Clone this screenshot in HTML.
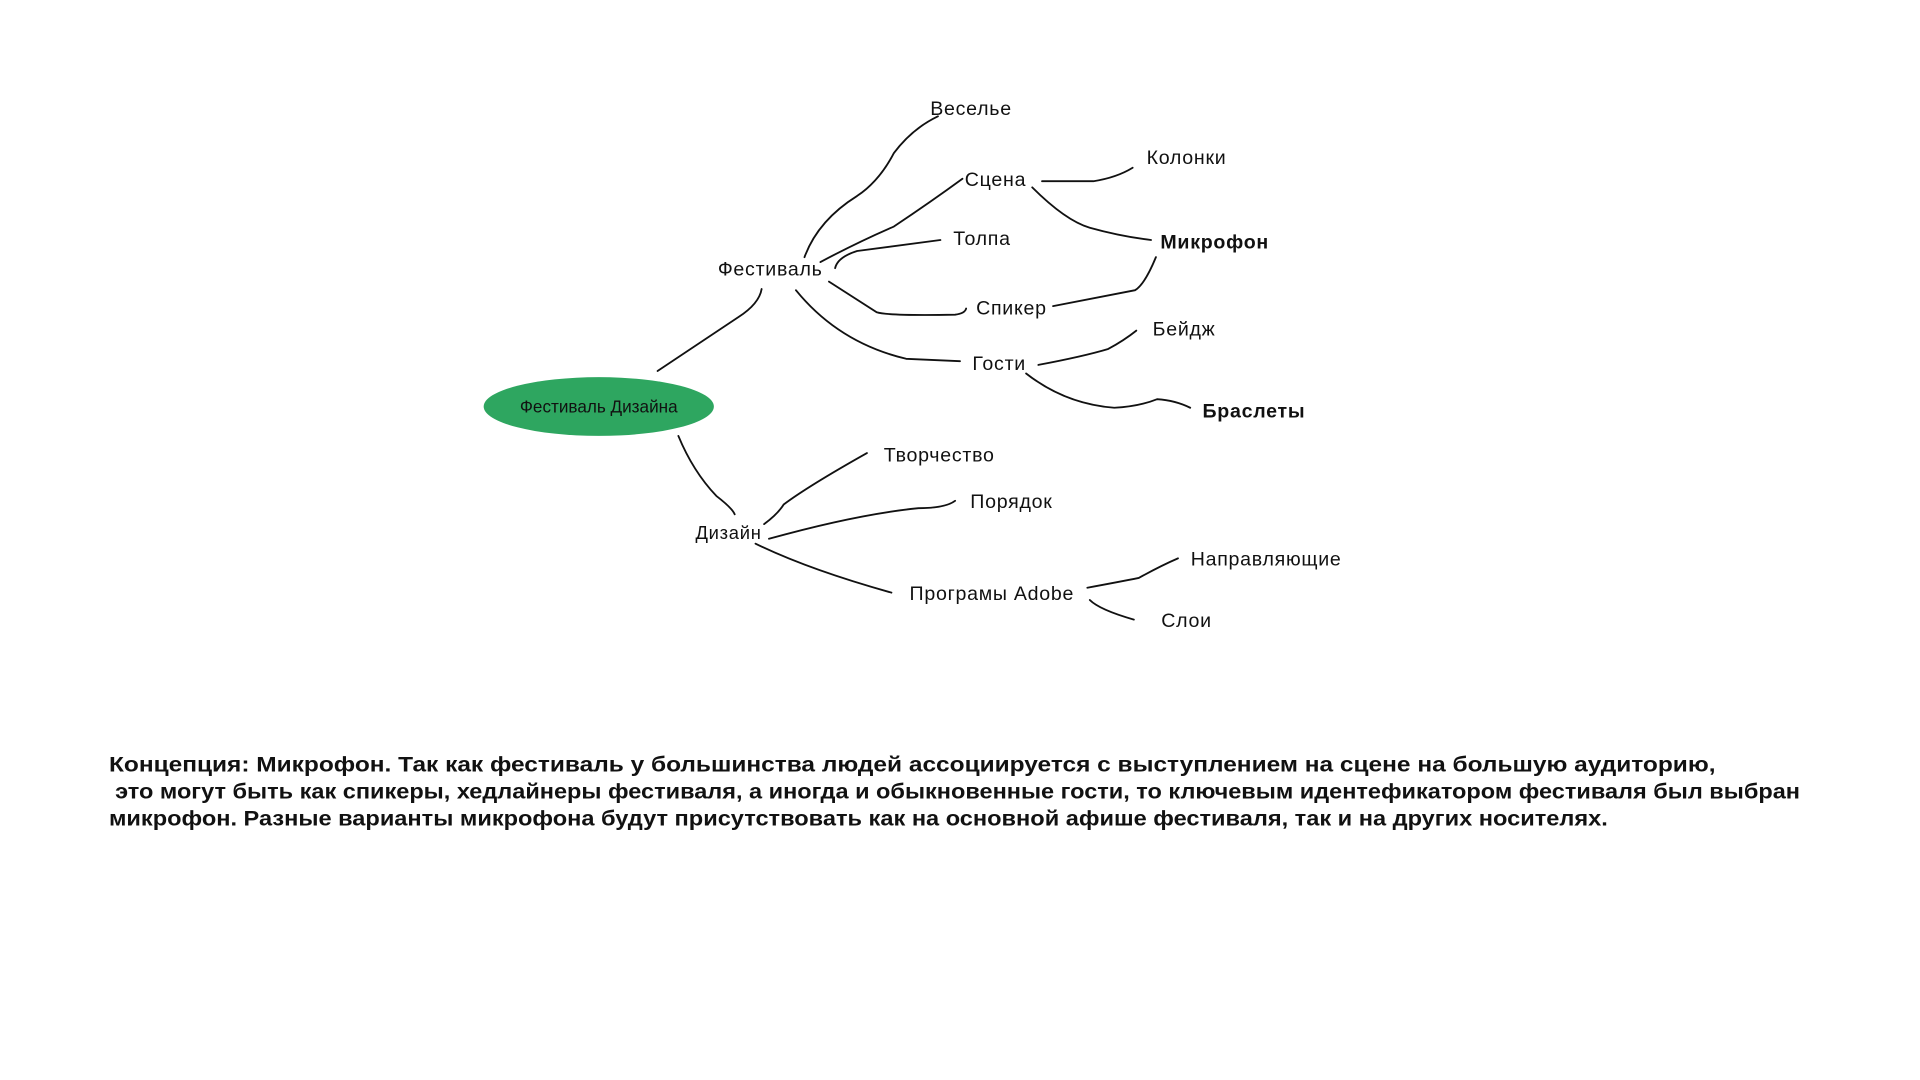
<!DOCTYPE html>
<html><head><meta charset="utf-8"><style>
html,body{margin:0;padding:0;background:#fff;width:1920px;height:1080px;overflow:hidden}
svg{display:block}
text{font-family:"Liberation Sans","DejaVu Sans",sans-serif;fill:#111}
</style></head><body>
<svg width="1920" height="1080" viewBox="0 0 1568 882" xmlns="http://www.w3.org/2000/svg">
<g fill="none" stroke="#111" stroke-width="1.5" stroke-linecap="round">
<path d="M537,303 L603,259 Q620,248 622,236"/>
<path d="M554,356 Q566,385 585,405 Q598,415 600,420"/>
<path d="M657,210 Q668,180 700,160 Q718,148 730,125 Q745,105 766,95"/>
<path d="M670,214 Q700,198 730,185 Q760,165 786,146"/>
<path d="M682,219 Q684,210 700,205 L768,196"/>
<path d="M677,230 L716,255 Q725,258 780,257 Q788,256 789,252"/>
<path d="M650,237 Q685,280 740,293 L784,295"/>
<path d="M851,148 L893,148 Q912,145 925,137"/>
<path d="M843,153 Q870,180 890,186 Q915,193 940,196"/>
<path d="M860,250 L927,237 Q935,232 944,210"/>
<path d="M848,298 Q885,291 905,285 Q918,278 928,270"/>
<path d="M838,305 Q870,330 910,333 Q930,332 945,326 Q960,327 972,333"/>
<path d="M624,428 Q635,420 640,412 Q660,397 708,370"/>
<path d="M628,440 Q700,420 750,415 Q772,415 780,409"/>
<path d="M617,444 Q660,465 728,484"/>
<path d="M888,480 Q915,475 930,472 Q948,462 962,456"/>
<path d="M890,490 Q898,498 926,506"/>
</g>
<ellipse cx="489" cy="332" rx="94" ry="24" fill="#2ea660"/>
<g font-size="14" text-anchor="middle"><text x="489" y="337">Фестиваль Дизайна</text></g>
<g font-size="16" text-anchor="middle" letter-spacing="0.6">
<text x="793" y="94">Веселье</text>
<text x="813" y="152">Сцена</text>
<text x="969" y="134">Колонки</text>
<text x="802" y="200">Толпа</text>
<text x="992" y="203" font-weight="bold">Микрофон</text>
<text x="629" y="225">Фестиваль</text>
<text x="826" y="257">Спикер</text>
<text x="967" y="274">Бейдж</text>
<text x="816" y="302">Гости</text>
<text x="1024" y="341" font-weight="bold">Браслеты</text>
<text x="767" y="377">Творчество</text>
<text x="826" y="415">Порядок</text>
<text x="595" y="440" font-size="15">Дизайн</text>
<text x="1034" y="462">Направляющие</text>
<text x="810" y="490">Програмы Adobe</text>
<text x="969" y="512">Слои</text>
</g>
<g font-size="17" font-weight="bold">
<text x="89" y="630" textLength="1312" lengthAdjust="spacingAndGlyphs"><tspan font-weight="900">Концепция: Микрофон.</tspan> Так как фестиваль у большинства людей ассоциируется с выступлением на сцене на большую аудиторию,</text>
<text x="94" y="652" textLength="1376" lengthAdjust="spacingAndGlyphs">это могут быть как спикеры, хедлайнеры фестиваля, а иногда и обыкновенные гости, то ключевым идентефикатором фестиваля был выбран</text>
<text x="89" y="674" textLength="1224" lengthAdjust="spacingAndGlyphs">микрофон. Разные варианты микрофона будут присутствовать как на основной афише фестиваля, так и на других носителях.</text>
</g>
</svg>
</body></html>
